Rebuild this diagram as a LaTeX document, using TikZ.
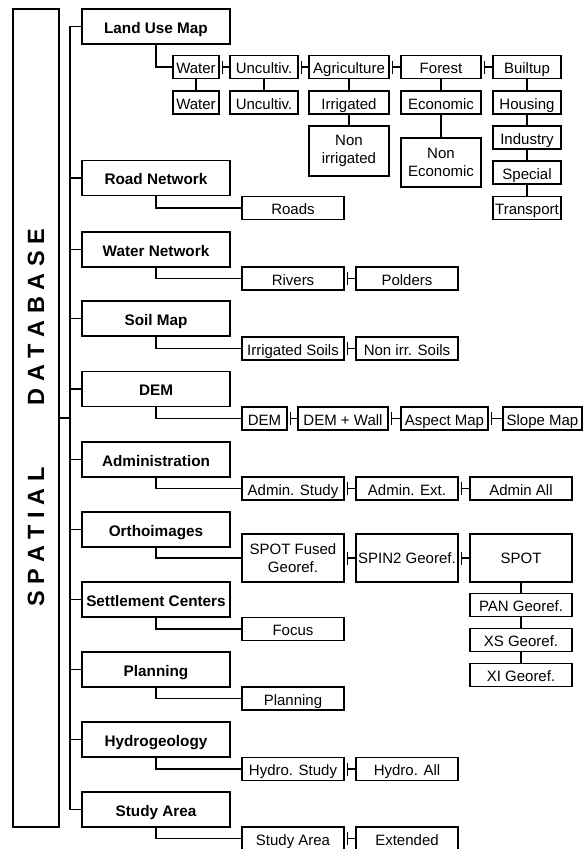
\documentclass[tikz,border=0pt]{standalone}
\usepackage{fontspec}
\setmainfont{Liberation Sans}
\usetikzlibrary{calc}

% short side link: small bar next to the left box, then a line to the right box
\newcommand{\sidelink}[2]{\draw[lnk] (#1.east) ++(2.5,-6.5) -- ++(0,13) ++(0,-6.5) -- (#2.west);}

\begin{document}
\begin{tikzpicture}[x=1pt,y=-1pt,
  lnk/.style={line width=1.2pt},
  topbox/.style={draw,line width=1.3pt,minimum width=148pt,minimum height=35pt,
    inner sep=0pt,text height=14.5pt,text depth=1pt,
    font=\fontsize{15.3}{17}\selectfont\bfseries},
  sub/.style={draw,line width=1.2pt,minimum height=23pt,inner sep=0pt,
    text height=14pt,text depth=1pt,font=\fontsize{15}{18}\selectfont},
  twoline/.style={draw,line width=1.2pt,inner sep=0pt,align=center,
    font=\fontsize{15}{18.5}\selectfont}]
  \useasboundingbox (0,0) rectangle (587,849);

  % database frame
  \node[draw,line width=1.3pt,rotate=90,minimum width=818pt,minimum height=46pt,
    inner sep=0pt,font=\fontsize{23.5}{26}\selectfont\bfseries]
    (db) at (36,418) {S P A T I A L\hspace{62pt}D A T A B A S E};
  \coordinate (trk) at (70,0);

  % themes
  \node[topbox] (lum)  at (156,26.5)  {Land Use Map};
  \node[topbox] (road) at (156,178)   {Road Network};
  \node[topbox] (wnet) at (156,249.5) {Water Network};
  \node[topbox] (soil) at (156,318.5) {Soil Map};
  \node[topbox] (dem)  at (156,389)   {DEM};
  \node[topbox] (adm)  at (156,459.5) {Administration};
  \node[topbox] (orth) at (156,529.5) {Orthoimages};
  \node[topbox] (setl) at (156,599.5) {Settlement Centers};
  \node[topbox] (plan) at (156,669.5) {Planning};
  \node[topbox] (hyd)  at (156,739.5) {Hydrogeology};
  \node[topbox] (stud) at (156,809.5) {Study Area};

  \draw[lnk] (lum.west) -| (trk |- stud.west) -- (stud.west);
  \foreach \m in {road,wnet,soil,dem,adm,orth,setl,plan,hyd}
    \draw[lnk] (\m.west) -- (\m.west -| trk);
  \draw[lnk] (db.south) -- (db.south -| trk);

  % land use classes
  \node[sub,minimum width=46] (wat1) at (196,67)    {Water};
  \node[sub,minimum width=68] (unc1) at (264,67)    {Uncultiv.};
  \node[sub,minimum width=80] (agr)  at (349,67)    {Agriculture};
  \node[sub,minimum width=80] (for)  at (441,67)    {Forest};
  \node[sub,minimum width=68] (bui)  at (527,67)    {Builtup};
  \node[sub,minimum width=46] (wat2) at (196,102.5) {Water};
  \node[sub,minimum width=68] (unc2) at (264,102.5) {Uncultiv.};
  \node[sub,minimum width=80] (irr)  at (349,102.5) {Irrigated};
  \node[sub,minimum width=80] (eco)  at (441,102.5) {Economic};
  \node[sub,minimum width=68] (hou)  at (527,102.5) {Housing};
  \node[twoline,minimum width=80,minimum height=50] (nir) at (349,151)   {Non\\irrigated};
  \node[twoline,minimum width=80,minimum height=49] (nec) at (441,162.5) {Non\\Economic};
  \node[sub,minimum width=68] (ind)  at (527,137.5) {Industry};
  \node[sub,minimum width=68] (spe)  at (527,172.5) {Special};
  \node[sub,minimum width=68] (tra)  at (527,208)   {Transport};

  \draw[lnk] (lum.south) |- (wat1.west);
  \sidelink{wat1}{unc1}
  \sidelink{unc1}{agr}
  \sidelink{agr}{for}
  \sidelink{for}{bui}
  \draw[lnk] (wat1.south) -- (wat2.north);
  \draw[lnk] (unc1.south) -- (unc2.north);
  \draw[lnk] (agr.south) -- (irr.north);
  \draw[lnk] (irr.south) -- (nir.north);
  \draw[lnk] (for.south) -- (eco.north);
  \draw[lnk] (eco.south) -- (nec.north);
  \draw[lnk] (bui.south) -- (hou.north);
  \draw[lnk] (hou.south) -- (ind.north);
  \draw[lnk] (ind.south) -- (spe.north);
  \draw[lnk] (spe.south) -- (tra.north);

  % other layers
  \node[sub,minimum width=102] (rds) at (293,208)   {Roads};
  \node[sub,minimum width=102] (riv) at (293,278.5) {Rivers};
  \node[sub,minimum width=102] (pol) at (407,278.5) {Polders};
  \node[sub,minimum width=102] (isl) at (293,348.5) {Irrigated Soils};
  \node[sub,minimum width=102] (nis) at (407,348.5) {Non irr. Soils};
  \node[sub,minimum width=45]  (dm)  at (264.5,418.5) {DEM};
  \node[sub,minimum width=90]  (dwl) at (343,418.5)   {DEM + Wall};
  \node[sub,minimum width=87]  (asp) at (444.5,418.5) {Aspect Map};
  \node[sub,minimum width=79]  (slo) at (542.5,418.5) {Slope Map};
  \node[sub,minimum width=102] (ast) at (293,488.5) {Admin. Study};
  \node[sub,minimum width=102] (aex) at (407,488.5) {Admin. Ext.};
  \node[sub,minimum width=102] (aal) at (521,488.5) {Admin All};
  \node[twoline,minimum width=102,minimum height=48] (sfg) at (293,558) {SPOT Fused\\Georef.};
  \node[twoline,minimum width=102,minimum height=48] (spn) at (407,558) {SPIN2 Georef.};
  \node[twoline,minimum width=102,minimum height=48] (spt) at (521,558) {SPOT};
  \node[sub,minimum width=102] (pan) at (521,605) {PAN Georef.};
  \node[sub,minimum width=102] (xs)  at (521,640) {XS Georef.};
  \node[sub,minimum width=102] (xi)  at (521,675) {XI Georef.};
  \node[sub,minimum width=102] (foc) at (293,629)   {Focus};
  \node[sub,minimum width=102] (pln) at (293,698.5) {Planning};
  \node[sub,minimum width=102] (hst) at (293,769)   {Hydro. Study};
  \node[sub,minimum width=102] (hal) at (407,769)   {Hydro. All};
  \node[sub,minimum width=102] (sar) at (293,838.5) {Study Area};
  \node[sub,minimum width=102] (ext) at (407,838.5) {Extended};

  \draw[lnk] (road.south) |- (rds.west);
  \draw[lnk] (wnet.south) |- (riv.west);
  \draw[lnk] (soil.south) |- (isl.west);
  \draw[lnk] (dem.south)  |- (dm.west);
  \draw[lnk] (adm.south)  |- (ast.west);
  \draw[lnk] (orth.south) |- (sfg.west);
  \draw[lnk] (setl.south) |- (foc.west);
  \draw[lnk] (plan.south) |- (pln.west);
  \draw[lnk] (hyd.south)  |- (hst.west);
  \draw[lnk] (stud.south) |- (sar.west);
  \sidelink{riv}{pol}
  \sidelink{isl}{nis}
  \sidelink{dm}{dwl}
  \sidelink{dwl}{asp}
  \sidelink{asp}{slo}
  \sidelink{ast}{aex}
  \sidelink{aex}{aal}
  \sidelink{sfg}{spn}
  \sidelink{spn}{spt}
  \sidelink{hst}{hal}
  \sidelink{sar}{ext}
  \draw[lnk] (spt.south) -- (pan.north);
  \draw[lnk] (pan.south) -- (xs.north);
  \draw[lnk] (xs.south) -- (xi.north);
\end{tikzpicture}
\end{document}
